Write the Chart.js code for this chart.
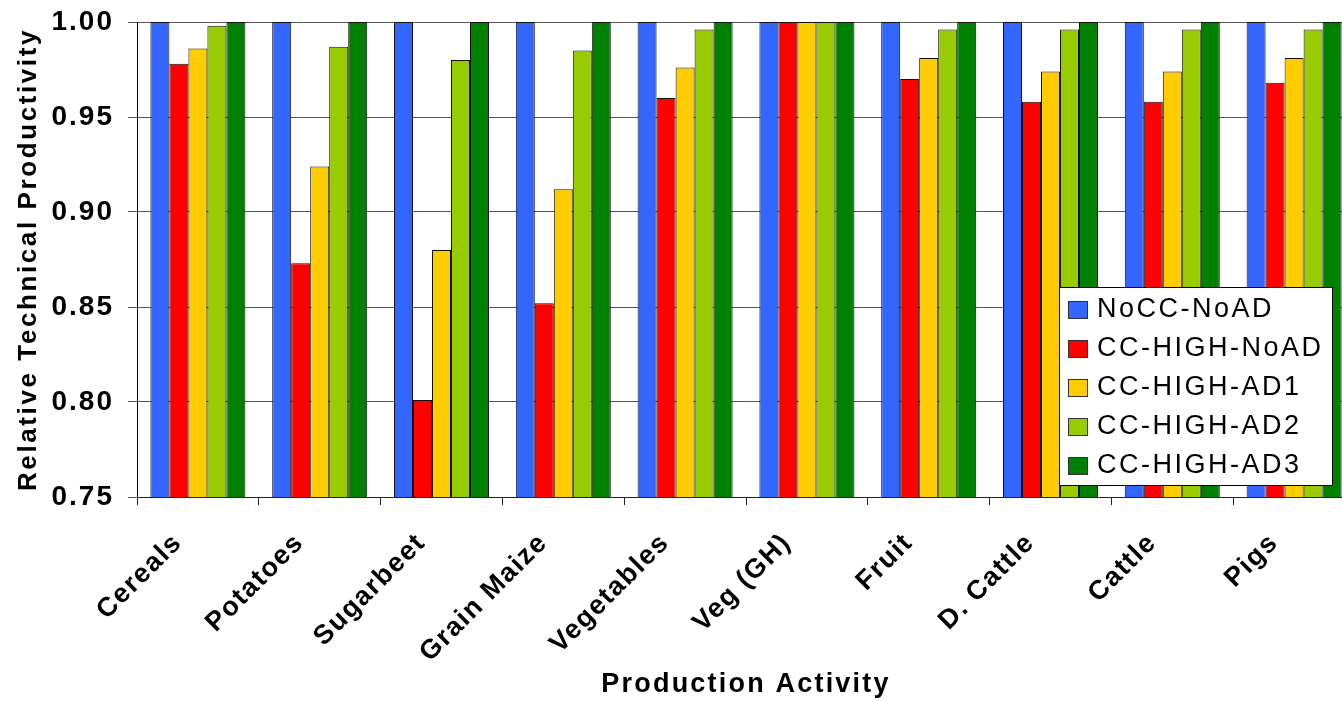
<!DOCTYPE html>
<html>
<head>
<meta charset="utf-8">
<script src="https://cdn.jsdelivr.net/npm/chart.js@4.4.1/dist/chart.umd.min.js"></script>
<style>
  html, body { margin: 0; padding: 0; background: #fff; overflow: hidden; }
  #wrap { width: 1362px; height: 701px; }
</style>
</head>
<body>
<div id="wrap"><canvas id="chart" width="1362" height="701"></canvas></div>
<script>
// categorias e series
const activities = ['Cereals', 'Potatoes', 'Sugarbeet', 'Grain Maize', 'Vegetables', 'Veg (GH)', 'Fruit', 'D. Cattle', 'Cattle', 'Pigs'];
const seriesNames = ['NoCC-NoAD', 'CC-HIGH-NoAD', 'CC-HIGH-AD1', 'CC-HIGH-AD2', 'CC-HIGH-AD3'];
const noccNoad   = [1.000, 1.000, 1.000, 1.000, 1.000, 1.000, 1.000, 1.000, 1.000, 1.000];
const ccHighNoad = [0.978, 0.873, 0.801, 0.852, 0.960, 1.000, 0.970, 0.958, 0.958, 0.968];
const ccHighAd1  = [0.986, 0.924, 0.880, 0.912, 0.976, 1.000, 0.981, 0.974, 0.974, 0.981];
const ccHighAd2  = [0.998, 0.987, 0.980, 0.985, 0.996, 1.000, 0.996, 0.996, 0.996, 0.996];
const ccHighAd3  = [1.000, 1.000, 1.000, 1.000, 1.000, 1.000, 1.000, 1.000, 1.000, 1.000];
const yTicks = [0.75, 0.80, 0.85, 0.90, 0.95, 1.00];

const colors = ['#3366FF', '#FF0000', '#FFCC00', '#99CC00', '#008000'];
const allSeries = [noccNoad, ccHighNoad, ccHighAd1, ccHighAd2, ccHighAd3];

const FONT = "'Liberation Sans', Arial, Helvetica, sans-serif";

// o original tem texto bem "largo": espacamento entre letras por parte do eixo
function withSpacing(scale, method, sp) {
  if (scale['_sp_' + method]) return;
  const orig = scale[method];
  scale[method] = function() {
    const old = this.ctx.letterSpacing;
    this.ctx.letterSpacing = sp;
    orig.apply(this, arguments);
    this.ctx.letterSpacing = old;
  };
  scale['_sp_' + method] = true;
}

// legenda desenhada dentro da area do grafico, canto inferior direito
const boxLegend = {
  id: 'boxLegend',
  afterDraw(chart) {
    const ctx = chart.ctx;
    const ca = chart.chartArea;
    const w = 273, h = 198;
    const x = ca.right - 23 - w;
    const y = ca.bottom - 12 - h;
    ctx.save();
    ctx.fillStyle = '#fff';
    ctx.fillRect(x, y, w, h);
    ctx.strokeStyle = '#000';
    ctx.lineWidth = 1;
    ctx.strokeRect(x + 0.5, y + 0.5, w, h);
    ctx.font = '27px ' + FONT;
    ctx.letterSpacing = '2.5px';
    ctx.textBaseline = 'middle';
    chart.data.datasets.forEach(function(ds, i) {
      const cy = y + 22 + i * 39;
      ctx.fillStyle = ds.backgroundColor;
      ctx.fillRect(x + 9, cy - 8, 19, 17);
      ctx.strokeStyle = '#333';
      ctx.strokeRect(x + 9.5, cy - 7.5, 19, 17);
      ctx.fillStyle = '#000';
      ctx.fillText(ds.label, x + 38, cy + 1);
    });
    ctx.restore();
  }
};

new Chart(document.getElementById('chart'), {
  type: 'bar',
  data: {
    labels: activities,
    datasets: seriesNames.map(function(name, i) {
      return {
        label: name,
        data: allSeries[i],
        backgroundColor: colors[i],
        borderColor: '#111',
        borderWidth: 1,
        borderSkipped: false,
        categoryPercentage: 0.78,
        barPercentage: 1.0
      };
    })
  },
  options: {
    responsive: false,
    animation: false,
    devicePixelRatio: 1,
    layout: { padding: { top: 22, right: 7, left: 0, bottom: 0 } },
    plugins: {
      legend: { display: false },
      tooltip: { enabled: false }
    },
    scales: {
      x: {
        offset: true,
        grid: { offset: true, drawOnChartArea: false, drawTicks: true, tickLength: 8, color: '#222' },
        border: { color: '#222', width: 1 },
        ticks: {
          autoSkip: false,
          minRotation: 45, maxRotation: 45,
          padding: 22,
          labelOffset: -20,
          color: '#000',
          font: { family: FONT, size: 27, weight: 'bold' }
        },
        title: {
          display: true,
          text: 'Production Activity',
          color: '#000',
          font: { family: FONT, size: 27, weight: 'bold' },
          padding: { top: 0, bottom: 0 }
        },
        afterFit(scale) {
          scale.height = 204; scale.paddingLeft = 0; scale.paddingRight = 0;
          withSpacing(scale, 'drawLabels', '1.5px');
          withSpacing(scale, 'drawTitle', '2.2px');
        }
      },
      y: {
        min: 0.75, max: 1.0,
        afterBuildTicks(scale) { scale.ticks = yTicks.map(function(v) { return { value: v }; }); },
        grid: { color: '#555', tickLength: 9 },
        border: { color: '#000', width: 1 },
        ticks: {
          padding: 14,
          color: '#000',
          font: { family: FONT, size: 28, weight: 'bold' },
          callback: function(v) { return Number(v).toFixed(2); }
        },
        title: {
          display: true,
          text: 'Relative Technical Productivity',
          color: '#000',
          font: { family: FONT, size: 26, weight: 'bold' },
          padding: { top: 13, bottom: 0 }
        },
        afterFit(scale) {
          scale.width = 137; scale.paddingTop = 0; scale.paddingBottom = 0;
          withSpacing(scale, 'drawLabels', '2px');
          withSpacing(scale, 'drawTitle', '2.6px');
        }
      }
    }
  },
  plugins: [boxLegend]
});
</script>
</body>
</html>
